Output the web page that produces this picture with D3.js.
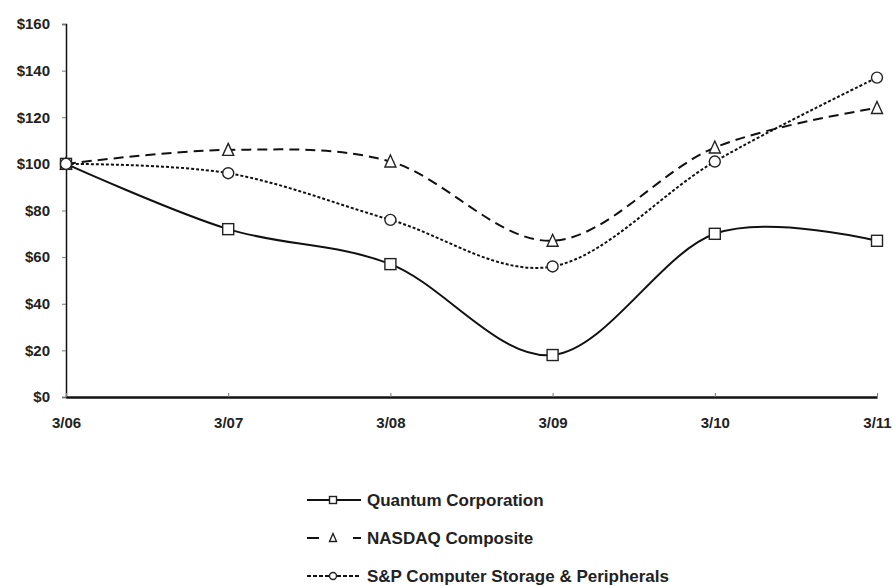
<!DOCTYPE html>
<html>
<head>
<meta charset="utf-8">
<script src="https://cdn.jsdelivr.net/npm/d3@7/dist/d3.min.js"></script>
<style>
	body { margin: 0; background: #fff; }
	svg text { font-family: "Liberation Sans", Arial, sans-serif; font-weight: bold; fill: #222; }
</style>
</head>
<body>
<script>
(function () {
	"use strict";

	var w = 894;
	var h = 586;

	var periods = ["3/06", "3/07", "3/08", "3/09", "3/10", "3/11"];
	var quantum = [100, 72, 57, 18, 70, 67];
	var nasdaq = [100, 106, 101, 67, 107, 124];
	var spStorage = [100, 96, 76, 56, 101, 137];
	var yTicks = [0, 20, 40, 60, 80, 100, 120, 140, 160];

	var series = [
		{ name: "Quantum Corporation", values: quantum, dash: null, legendDash: null, marker: "square" },
		{ name: "NASDAQ Composite", values: nasdaq, dash: "10,6", legendDash: "12,34,8", marker: "triangle" },
		{ name: "S&P Computer Storage & Peripherals", values: spStorage, dash: "3,2", legendDash: "4,2", marker: "circle" }
	];

	var left = 66, right = 877, top = 24, bottom = 397;

	var xScale = d3.scalePoint()
		.domain(periods)
		.range([left, right]);

	var yScale = d3.scaleLinear()
		.domain([0, 160])
		.range([bottom, top]);

	var svg = d3.select("body")
		.append("svg")
		.attr("width", w)
		.attr("height", h);

	// y axis
	var yAxis = svg.append("g")
		.attr("transform", "translate(" + left + ",0)")
		.call(d3.axisLeft(yScale).tickValues(yTicks).tickSize(4).tickPadding(12)
			.tickFormat((d) => "$" + d));
	yAxis.select(".domain").attr("stroke", "#111").attr("stroke-width", 1.5);
	yAxis.selectAll(".tick line").attr("stroke", "#777");
	yAxis.selectAll("text").style("font-size", "15px");

	// x axis
	var xAxis = svg.append("g")
		.attr("transform", "translate(0," + bottom + ")")
		.call(d3.axisTop(xScale).tickSize(4).tickSizeOuter(0));
	xAxis.select(".domain").attr("stroke", "#111").attr("stroke-width", 2.5);
	xAxis.selectAll(".tick line").attr("stroke", "#777");
	xAxis.selectAll("text")
		.attr("y", 31)
		.style("font-size", "15px");

	var lineFun = d3.line()
		.x((d, i) => xScale(periods[i]))
		.y((d) => yScale(d))
		.curve(d3.curveCardinal.tension(0));

	function drawMarker(g, type, size) {
		var s = size / 2;
		var m;
		if (type === "square") {
			m = g.append("rect").attr("x", -s).attr("y", -s).attr("width", size).attr("height", size);
		} else if (type === "triangle") {
			m = g.append("path").attr("d", "M0," + (-s - 1) + "L" + s + "," + s + "L" + (-s) + "," + s + "Z");
		} else {
			m = g.append("circle").attr("r", s);
		}
		m.attr("fill", "#fff").attr("stroke", "#222").attr("stroke-width", 1.4);
	}

	series.forEach(function (sr) {
		svg.append("path")
			.attr("d", lineFun(sr.values))
			.attr("fill", "none")
			.attr("stroke", "#111")
			.attr("stroke-width", 2)
			.attr("stroke-dasharray", sr.dash);
	});

	series.forEach(function (sr) {
		sr.values.forEach(function (v, i) {
			var g = svg.append("g")
				.attr("transform", "translate(" + xScale(periods[i]) + "," + yScale(v) + ")");
			drawMarker(g, sr.marker, 11);
		});
	});

	// legend
	var legend = svg.append("g").attr("transform", "translate(307,500)");
	series.forEach(function (sr, i) {
		var row = legend.append("g").attr("transform", "translate(0," + (i * 38) + ")");
		row.append("line")
			.attr("x1", 0).attr("x2", 54)
			.attr("stroke", "#111")
			.attr("stroke-width", 2)
			.attr("stroke-dasharray", sr.legendDash);
		var mg = row.append("g").attr("transform", "translate(26,0)");
		drawMarker(mg, sr.marker, 7);
		row.append("text")
			.attr("x", 60)
			.attr("dy", "0.35em")
			.style("font-size", "17px")
			.text(sr.name);
	});
})();
</script>
</body>
</html>
